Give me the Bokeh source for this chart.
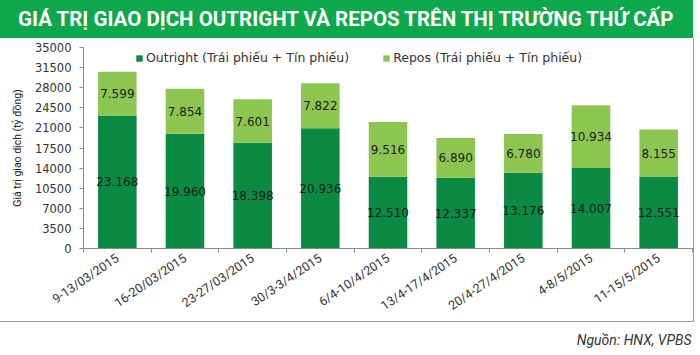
from bokeh.plotting import figure
from bokeh.layouts import column
from bokeh.models import (ColumnDataSource, FixedTicker, Label, BasicTickFormatter, Div)
from bokeh.core.properties import value
from bokeh.embed import file_html
from bokeh.resources import INLINE

# ---- data ----
weeks = ["9-13/03/2015", "16-20/03/2015", "23-27/03/2015", "30/3-3/4/2015",
         "6/4-10/4/2015", "13/4-17/4/2015", "20/4-27/4/2015", "4-8/5/2015",
         "11-15/5/2015"]
outright = [23168, 19960, 18398, 20936, 12510, 12337, 13176, 14007, 12551]
repos = [7599, 7854, 7601, 7822, 9516, 6890, 6780, 10934, 8155]
y_ticks = [0, 3500, 7000, 10500, 14000, 17500, 21000, 24500, 28000, 31500, 35000]
series_names = ["Outright (Trái phiếu + Tín phiếu)", "Repos (Trái phiếu + Tín phiếu)"]
title_text = "GIÁ TRỊ GIAO DỊCH OUTRIGHT VÀ REPOS TRÊN THỊ TRƯỜNG THỨ CẤP"
y_label = "Giá trị giao dịch (tỷ đồng)"
source_text = "Nguồn: HNX, VPBS"

DARK = "#0b8a44"
LIGHT = "#8dc551"
BANNER = "#0da84c"
FONT = "Roboto"

W = 693
LEFT, RIGHT = 83, 2

def fmt(v):
    return f"{v:,}".replace(",", ".")

n = len(weeks)
xs = [i + 0.5 for i in range(n)]
src = ColumnDataSource(dict(
    x=xs, outright=outright, repos=repos,
    y_out=[o / 2 for o in outright],
    y_rep=[o + r / 2 for o, r in zip(outright, repos)],
    t_out=[fmt(o) for o in outright],
    t_rep=[fmt(r) for r in repos],
))

# ---- banner (title) ----
banner = Div(text=title_text, width=W, height=38, margin=0,
             styles={"background-color": BANNER, "color": "white",
                     "font-family": "Roboto", "font-weight": "bold",
                     "font-size": "20.5px", "line-height": "38px",
                     "padding-left": "18px", "box-sizing": "border-box",
                     "white-space": "nowrap", "overflow": "hidden"})

# ---- main chart ----
p = figure(frame_width=608, frame_height=200, x_range=(0, n), y_range=(0, 35000),
           output_backend="svg", toolbar_location=None,
           min_border_left=LEFT, min_border_right=RIGHT, min_border_top=9,
           min_border_bottom=70, outline_line_color=None,
           background_fill_color="white", border_fill_color="white")
p.styles = {"border-right": "1px solid #9a9a9a", "border-bottom": "1px solid #9a9a9a"}
p.grid.visible = False

p.vbar_stack(["outright", "repos"], x="x", width=0.57, color=[DARK, LIGHT],
             line_color=None, source=src, legend_label=series_names)

p.text(x="x", y="y_out", text="t_out", source=src, text_align="center",
       text_baseline="middle", text_font=value("DejaVu Sans"),
       text_font_size="12px", text_color="#1e1e1e")
p.text(x="x", y="y_rep", text="t_rep", source=src, text_align="center",
       text_baseline="middle", text_font=value("DejaVu Sans"),
       text_font_size="12px", text_color="#1e1e1e")

# y axis
p.yaxis.ticker = FixedTicker(ticks=y_ticks)
p.yaxis.formatter = BasicTickFormatter(use_scientific=False)
p.yaxis.major_label_text_font = "DejaVu Sans"
p.yaxis.major_label_text_font_size = "11.5px"
p.yaxis.major_label_text_color = "#333333"
p.yaxis.major_tick_in = 0
p.yaxis.major_tick_out = 4
p.yaxis.minor_tick_line_color = None
p.yaxis.axis_line_color = "#8a8a8a"
p.yaxis.major_tick_line_color = "#8a8a8a"
p.yaxis.major_label_standoff = 8
p.yaxis.axis_label = y_label
p.yaxis.axis_label_text_font = FONT
p.yaxis.axis_label_text_font_size = "10.5px"
p.yaxis.axis_label_text_font_style = "normal"
p.yaxis.axis_label_text_color = "#222222"
p.yaxis.axis_label_standoff = 8

# x axis
p.xaxis.ticker = FixedTicker(ticks=xs, minor_ticks=list(range(n + 1)))
p.xaxis.major_label_overrides = {x: w for x, w in zip(xs, weeks)}
p.xaxis.major_tick_line_color = None
p.xaxis.minor_tick_in = 0
p.xaxis.minor_tick_out = 4
p.xaxis.minor_tick_line_color = "#8a8a8a"
p.xaxis.axis_line_color = "#8a8a8a"
p.xaxis.major_label_orientation = 0.6
p.xaxis.major_label_text_font = FONT
p.xaxis.major_label_text_font_size = "12.5px"
p.xaxis.major_label_text_color = "#333333"
p.xaxis.major_label_standoff = 2

# legend
lg = p.legend[0]
lg.orientation = "horizontal"
lg.location = (52, 183)
lg.glyph_width = 8
lg.glyph_height = 8
lg.label_standoff = 3
lg.spacing = 33
lg.padding = 0
lg.margin = 0
lg.border_line_color = None
lg.background_fill_alpha = 0
lg.label_text_font = "DejaVu Sans"
lg.label_text_font_size = "12.5px"
lg.label_text_color = "#333333"

# ---- source line ----
foot = figure(width=W, height=32, x_range=(LEFT, W - RIGHT), y_range=(0, 32),
              output_backend="svg", toolbar_location=None,
              min_border_left=LEFT, min_border_right=RIGHT,
              min_border_top=0, min_border_bottom=0,
              x_axis_location=None, y_axis_location=None,
              outline_line_color=None, background_fill_color="white",
              border_fill_color="white")
foot.grid.visible = False
foot.add_layout(Label(x=691, y=15, text=source_text, text_color="#333333",
                      text_font=FONT, text_font_style="italic",
                      text_font_size="14px", text_align="right",
                      text_baseline="middle"))

layout = column(banner, p, foot, spacing=0)
open("out.html", "w").write(file_html(layout, INLINE))
